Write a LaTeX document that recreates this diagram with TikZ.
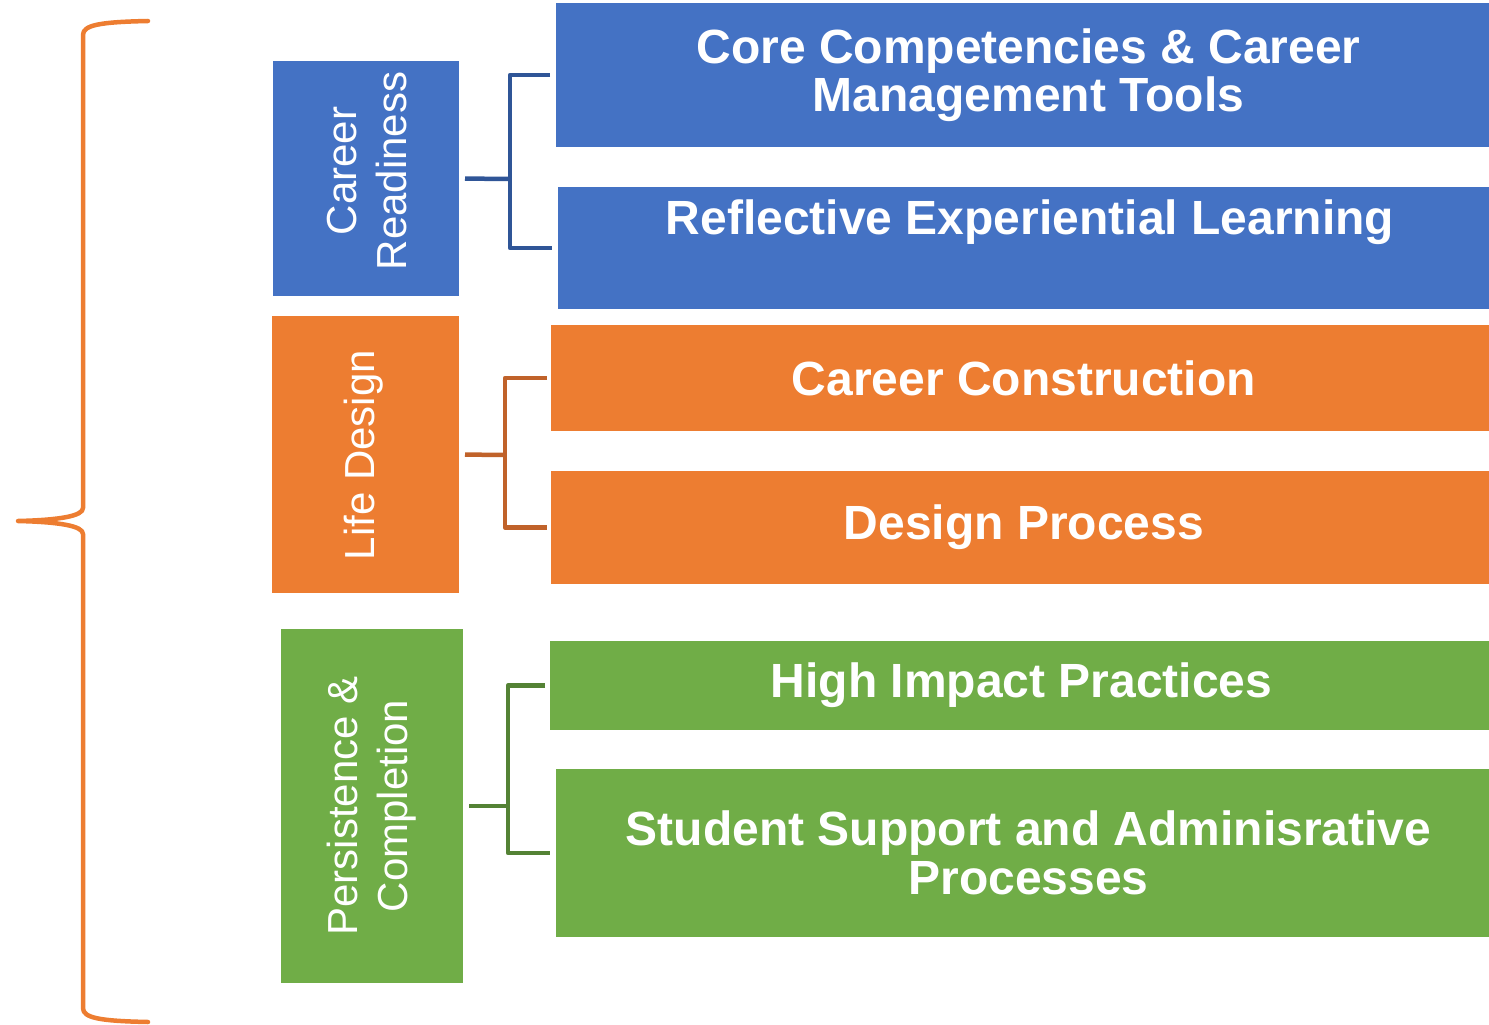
\documentclass[tikz,border=0pt]{standalone}
\usepackage{fontspec}
\setmainfont{Liberation Sans}
\definecolor{cblue}{HTML}{4472C4}
\definecolor{corange}{HTML}{ED7D31}
\definecolor{cgreen}{HTML}{70AD47}
\definecolor{dblue}{HTML}{2F5597}
\definecolor{dorange}{HTML}{C0622A}
\definecolor{dgreen}{HTML}{548235}
\tikzset{
  box/.style={draw=none, inner sep=0pt, outer sep=0pt, text=white, align=center},
  parentbox/.style={box, font=\fontsize{42}{50}\selectfont, rotate=90},
  childbox/.style={box, font=\fontsize{48}{49}\selectfont\bfseries},
  conn/.style={line width=4.5pt, line cap=butt, line join=round},
  brace/.style={line width=4.5pt, draw=corange, line cap=round, line join=round}
}
\begin{document}
\begin{tikzpicture}[x=1pt,y=-1pt]
\useasboundingbox (0,0) rectangle (1489,1025);
% parent boxes
\node[box, fill=cblue, minimum width=186pt, minimum height=235pt] (cr) at (366,178.5) {};
\node[parentbox] (crt) at (367,171) {Career\\Readiness};
\node[box, fill=corange, minimum width=187pt, minimum height=277pt] (ld) at (365.5,454.5) {};
\node[parentbox] (ldt) at (364,455) {Life Design};
\node[box, fill=cgreen, minimum width=182pt, minimum height=354pt] (pc) at (372,806) {};
\node[parentbox] (pct) at (372,806) {Persistence \&\\Completion};
% child boxes
\node[childbox, fill=cblue, minimum width=933pt, minimum height=144pt] (core) at (1022.5,75) {\hspace*{12pt}Core Competencies \& Career\\[-1pt]\hspace*{12pt}Management Tools};
\node[box, fill=cblue, minimum width=931pt, minimum height=122pt] (refl) at (1023.5,248) {};
\node[childbox] (reflt) at (1030,222) {Reflective Experiential Learning};
\node[childbox, fill=corange, minimum width=938pt, minimum height=106pt] (cc) at (1020,378) {\hspace*{8pt}Career Construction};
\node[childbox, fill=corange, minimum width=938pt, minimum height=113pt] (dp) at (1020,527.5) {\hspace*{8pt}Design Process};
\node[childbox, fill=cgreen, minimum width=939pt, minimum height=89pt] (hi) at (1019.5,685.5) {\hspace*{4pt}High Impact Practices};
\node[childbox, fill=cgreen, minimum width=933pt, minimum height=168pt] (ss) at (1022.5,853) {\hspace*{12pt}Student Support and Adminisrative\\\hspace*{12pt}Processes};
% connectors
\coordinate (jb) at (510,179);
\coordinate (jo) at (505,455);
\coordinate (jg) at (508,806);
\draw[conn, draw=dblue, shorten <=6pt] (cr.east) -- (jb);
\draw[conn, draw=dblue, shorten <=6pt, shorten >=6pt] (core.west) -| (jb) |- (refl.west);
\draw[conn, draw=dorange, shorten <=6pt] (ld.east) -- (jo);
\draw[conn, draw=dorange, shorten <=4pt, shorten >=4pt] (cc.west) -| (jo) |- (dp.west);
\draw[conn, draw=dgreen, shorten <=6pt] (pc.east) -- (jg);
\draw[conn, draw=dgreen, shorten <=5pt, shorten >=6pt] (hi.west) -| (jg) |- (ss.west);
% brace
\coordinate (btop) at (148,21);
\coordinate (btip) at (18,521);
\coordinate (bbot) at (148,1022);
\draw[brace] (btop) .. controls (100,22) and (83,25) .. (83,35) -- (83,508)
  .. controls (83,516) and (60,520) .. (btip)
  .. controls (60,522) and (83,526) .. (83,534) -- (83,1008)
  .. controls (83,1018) and (100,1021) .. (bbot);
\end{tikzpicture}
\end{document}
